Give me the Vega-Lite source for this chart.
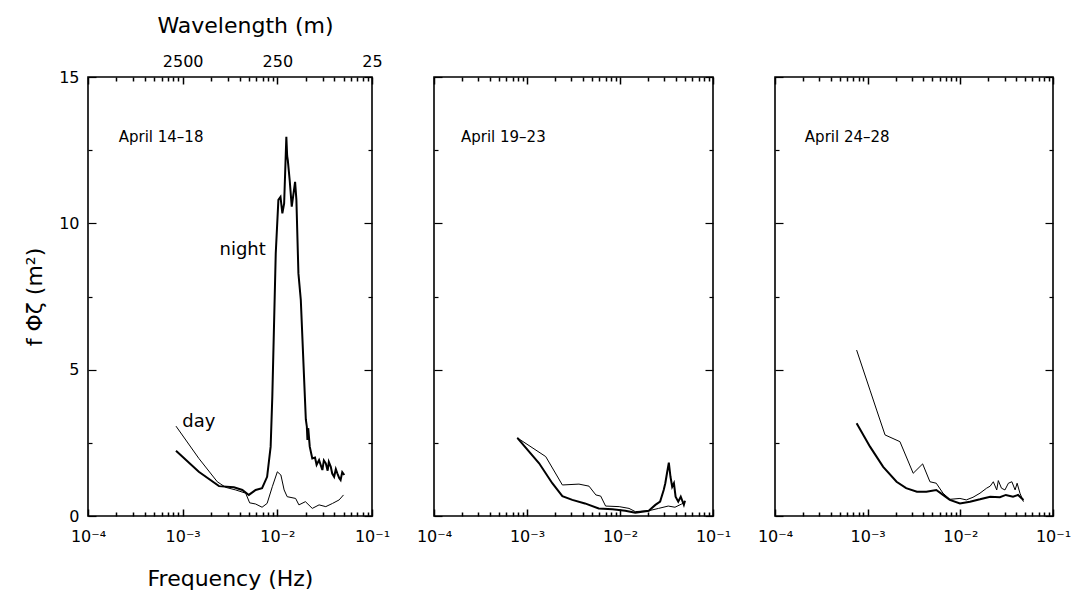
{
  "$schema": "https://vega.github.io/schema/vega-lite/v6.json",
  "background": "white",
  "padding": {"left": 22, "top": 13, "right": 5, "bottom": 5},
  "spacing": 62,
  "bounds": "flush",
  "config": {
    "view": {"stroke": "black", "strokeWidth": 1.6},
    "axis": {"grid": false, "domain": false, "tickColor": "black", "tickWidth": 1.2, "labelColor": "black", "labelFont": "DejaVu Sans", "labelFontSize": 16, "titleFont": "DejaVu Sans", "titleFontSize": 22, "titleFontWeight": "normal", "titleColor": "black", "labelOverlap": false, "labelFlush": false},
    "axisX": {"tickWidth": 1.5, "tickRound": true},
    "text": {"font": "DejaVu Sans", "color": "black"}
  },
  "datasets": {
    "curves": [
      {"panel": 1, "series": "night", "f": 0.00085, "v": 2.23},
      {"panel": 1, "series": "night", "f": 0.00148, "v": 1.51},
      {"panel": 1, "series": "night", "f": 0.00242, "v": 1.02},
      {"panel": 1, "series": "night", "f": 0.00348, "v": 0.98},
      {"panel": 1, "series": "night", "f": 0.00427, "v": 0.89},
      {"panel": 1, "series": "night", "f": 0.005, "v": 0.72},
      {"panel": 1, "series": "night", "f": 0.0059, "v": 0.89},
      {"panel": 1, "series": "night", "f": 0.0069, "v": 0.95},
      {"panel": 1, "series": "night", "f": 0.0078, "v": 1.34},
      {"panel": 1, "series": "night", "f": 0.0085, "v": 2.37},
      {"panel": 1, "series": "night", "f": 0.00885, "v": 4.08},
      {"panel": 1, "series": "night", "f": 0.00962, "v": 8.97},
      {"panel": 1, "series": "night", "f": 0.01026, "v": 10.8},
      {"panel": 1, "series": "night", "f": 0.0108, "v": 10.9},
      {"panel": 1, "series": "night", "f": 0.0113, "v": 10.34},
      {"panel": 1, "series": "night", "f": 0.0118, "v": 10.68},
      {"panel": 1, "series": "night", "f": 0.01245, "v": 12.96},
      {"panel": 1, "series": "night", "f": 0.0127, "v": 12.3},
      {"panel": 1, "series": "night", "f": 0.0129, "v": 12.16},
      {"panel": 1, "series": "night", "f": 0.0135, "v": 11.48},
      {"panel": 1, "series": "night", "f": 0.0142, "v": 10.57},
      {"panel": 1, "series": "night", "f": 0.0154, "v": 11.42},
      {"panel": 1, "series": "night", "f": 0.0159, "v": 10.8},
      {"panel": 1, "series": "night", "f": 0.0167, "v": 8.29},
      {"panel": 1, "series": "night", "f": 0.0177, "v": 7.38},
      {"panel": 1, "series": "night", "f": 0.0192, "v": 4.65},
      {"panel": 1, "series": "night", "f": 0.02, "v": 3.3},
      {"panel": 1, "series": "night", "f": 0.0205, "v": 3.05},
      {"panel": 1, "series": "night", "f": 0.0208, "v": 2.6},
      {"panel": 1, "series": "night", "f": 0.0212, "v": 3.0},
      {"panel": 1, "series": "night", "f": 0.022, "v": 2.37},
      {"panel": 1, "series": "night", "f": 0.0234, "v": 1.97},
      {"panel": 1, "series": "night", "f": 0.025, "v": 2.0},
      {"panel": 1, "series": "night", "f": 0.026, "v": 1.75},
      {"panel": 1, "series": "night", "f": 0.0276, "v": 1.91},
      {"panel": 1, "series": "night", "f": 0.0299, "v": 1.57},
      {"panel": 1, "series": "night", "f": 0.031, "v": 1.9},
      {"panel": 1, "series": "night", "f": 0.0325, "v": 1.8},
      {"panel": 1, "series": "night", "f": 0.034, "v": 1.55},
      {"panel": 1, "series": "night", "f": 0.035, "v": 1.85},
      {"panel": 1, "series": "night", "f": 0.0367, "v": 1.68},
      {"panel": 1, "series": "night", "f": 0.038, "v": 1.45},
      {"panel": 1, "series": "night", "f": 0.0398, "v": 1.34},
      {"panel": 1, "series": "night", "f": 0.0415, "v": 1.6},
      {"panel": 1, "series": "night", "f": 0.043, "v": 1.46},
      {"panel": 1, "series": "night", "f": 0.045, "v": 1.3},
      {"panel": 1, "series": "night", "f": 0.0466, "v": 1.23},
      {"panel": 1, "series": "night", "f": 0.0485, "v": 1.5},
      {"panel": 1, "series": "night", "f": 0.051, "v": 1.4},

      {"panel": 1, "series": "day", "f": 0.00085, "v": 3.07},
      {"panel": 1, "series": "day", "f": 0.00148, "v": 1.97},
      {"panel": 1, "series": "day", "f": 0.00232, "v": 1.17},
      {"panel": 1, "series": "day", "f": 0.00284, "v": 0.98},
      {"panel": 1, "series": "day", "f": 0.00363, "v": 0.89},
      {"panel": 1, "series": "day", "f": 0.00463, "v": 0.78},
      {"panel": 1, "series": "day", "f": 0.0051, "v": 0.45},
      {"panel": 1, "series": "day", "f": 0.0059, "v": 0.41},
      {"panel": 1, "series": "day", "f": 0.0069, "v": 0.3},
      {"panel": 1, "series": "day", "f": 0.0078, "v": 0.43},
      {"panel": 1, "series": "day", "f": 0.00885, "v": 1.0},
      {"panel": 1, "series": "day", "f": 0.01, "v": 1.51},
      {"panel": 1, "series": "day", "f": 0.0109, "v": 1.4},
      {"panel": 1, "series": "day", "f": 0.0118, "v": 0.89},
      {"panel": 1, "series": "day", "f": 0.0127, "v": 0.66},
      {"panel": 1, "series": "day", "f": 0.0156, "v": 0.6},
      {"panel": 1, "series": "day", "f": 0.0169, "v": 0.38},
      {"panel": 1, "series": "day", "f": 0.0198, "v": 0.49},
      {"panel": 1, "series": "day", "f": 0.0234, "v": 0.26},
      {"panel": 1, "series": "day", "f": 0.0276, "v": 0.38},
      {"panel": 1, "series": "day", "f": 0.0325, "v": 0.32},
      {"panel": 1, "series": "day", "f": 0.0383, "v": 0.43},
      {"panel": 1, "series": "day", "f": 0.045, "v": 0.55},
      {"panel": 1, "series": "day", "f": 0.05, "v": 0.72},

      {"panel": 2, "series": "day", "f": 0.000787, "v": 2.67},
      {"panel": 2, "series": "day", "f": 0.00159, "v": 2.03},
      {"panel": 2, "series": "day", "f": 0.0024, "v": 1.06},
      {"panel": 2, "series": "day", "f": 0.00362, "v": 1.09},
      {"panel": 2, "series": "day", "f": 0.00464, "v": 1.02},
      {"panel": 2, "series": "day", "f": 0.0055, "v": 0.72},
      {"panel": 2, "series": "day", "f": 0.0062, "v": 0.68},
      {"panel": 2, "series": "day", "f": 0.007, "v": 0.34},
      {"panel": 2, "series": "day", "f": 0.0098, "v": 0.32},
      {"panel": 2, "series": "day", "f": 0.0125, "v": 0.26},
      {"panel": 2, "series": "day", "f": 0.0146, "v": 0.15},
      {"panel": 2, "series": "day", "f": 0.0204, "v": 0.18},
      {"panel": 2, "series": "day", "f": 0.026, "v": 0.26},
      {"panel": 2, "series": "day", "f": 0.033, "v": 0.34},
      {"panel": 2, "series": "day", "f": 0.039, "v": 0.3},
      {"panel": 2, "series": "day", "f": 0.046, "v": 0.41},
      {"panel": 2, "series": "day", "f": 0.05, "v": 0.49},

      {"panel": 2, "series": "night", "f": 0.000787, "v": 2.67},
      {"panel": 2, "series": "night", "f": 0.00135, "v": 1.8},
      {"panel": 2, "series": "night", "f": 0.00187, "v": 1.12},
      {"panel": 2, "series": "night", "f": 0.0024, "v": 0.68},
      {"panel": 2, "series": "night", "f": 0.00307, "v": 0.55},
      {"panel": 2, "series": "night", "f": 0.0042, "v": 0.43},
      {"panel": 2, "series": "night", "f": 0.0059, "v": 0.26},
      {"panel": 2, "series": "night", "f": 0.0083, "v": 0.23},
      {"panel": 2, "series": "night", "f": 0.0114, "v": 0.18},
      {"panel": 2, "series": "night", "f": 0.0146, "v": 0.11},
      {"panel": 2, "series": "night", "f": 0.0204, "v": 0.18},
      {"panel": 2, "series": "night", "f": 0.024, "v": 0.38},
      {"panel": 2, "series": "night", "f": 0.027, "v": 0.49},
      {"panel": 2, "series": "night", "f": 0.0295, "v": 0.89},
      {"panel": 2, "series": "night", "f": 0.0307, "v": 1.12},
      {"panel": 2, "series": "night", "f": 0.032, "v": 1.46},
      {"panel": 2, "series": "night", "f": 0.0335, "v": 1.82},
      {"panel": 2, "series": "night", "f": 0.0349, "v": 1.34},
      {"panel": 2, "series": "night", "f": 0.0364, "v": 1.0},
      {"panel": 2, "series": "night", "f": 0.038, "v": 1.12},
      {"panel": 2, "series": "night", "f": 0.0396, "v": 0.66},
      {"panel": 2, "series": "night", "f": 0.0423, "v": 0.49},
      {"panel": 2, "series": "night", "f": 0.045, "v": 0.66},
      {"panel": 2, "series": "night", "f": 0.0486, "v": 0.38},
      {"panel": 2, "series": "night", "f": 0.05, "v": 0.52},

      {"panel": 3, "series": "day", "f": 0.00076, "v": 5.67},
      {"panel": 3, "series": "day", "f": 0.00106, "v": 4.3},
      {"panel": 3, "series": "day", "f": 0.00125, "v": 3.62},
      {"panel": 3, "series": "day", "f": 0.00154, "v": 2.77},
      {"panel": 3, "series": "day", "f": 0.00223, "v": 2.54},
      {"panel": 3, "series": "day", "f": 0.0031, "v": 1.46},
      {"panel": 3, "series": "day", "f": 0.00392, "v": 1.78},
      {"panel": 3, "series": "day", "f": 0.0047, "v": 1.17},
      {"panel": 3, "series": "day", "f": 0.0055, "v": 1.12},
      {"panel": 3, "series": "day", "f": 0.0065, "v": 0.78},
      {"panel": 3, "series": "day", "f": 0.0077, "v": 0.57},
      {"panel": 3, "series": "day", "f": 0.0099, "v": 0.6},
      {"panel": 3, "series": "day", "f": 0.0116, "v": 0.55},
      {"panel": 3, "series": "day", "f": 0.0137, "v": 0.64},
      {"panel": 3, "series": "day", "f": 0.0163, "v": 0.78},
      {"panel": 3, "series": "day", "f": 0.0192, "v": 0.95},
      {"panel": 3, "series": "day", "f": 0.021, "v": 1.02},
      {"panel": 3, "series": "day", "f": 0.0227, "v": 1.17},
      {"panel": 3, "series": "day", "f": 0.0247, "v": 0.89},
      {"panel": 3, "series": "day", "f": 0.0257, "v": 1.21},
      {"panel": 3, "series": "day", "f": 0.0278, "v": 0.95},
      {"panel": 3, "series": "day", "f": 0.0303, "v": 0.89},
      {"panel": 3, "series": "day", "f": 0.033, "v": 1.12},
      {"panel": 3, "series": "day", "f": 0.036, "v": 1.17},
      {"panel": 3, "series": "day", "f": 0.039, "v": 0.89},
      {"panel": 3, "series": "day", "f": 0.041, "v": 1.12},
      {"panel": 3, "series": "day", "f": 0.044, "v": 0.78},
      {"panel": 3, "series": "day", "f": 0.048, "v": 0.49},

      {"panel": 3, "series": "night", "f": 0.00076, "v": 3.17},
      {"panel": 3, "series": "night", "f": 0.00106, "v": 2.37},
      {"panel": 3, "series": "night", "f": 0.00147, "v": 1.68},
      {"panel": 3, "series": "night", "f": 0.00205, "v": 1.17},
      {"panel": 3, "series": "night", "f": 0.0026, "v": 0.95},
      {"panel": 3, "series": "night", "f": 0.0034, "v": 0.83},
      {"panel": 3, "series": "night", "f": 0.0043, "v": 0.83},
      {"panel": 3, "series": "night", "f": 0.0055, "v": 0.89},
      {"panel": 3, "series": "night", "f": 0.0065, "v": 0.72},
      {"panel": 3, "series": "night", "f": 0.0077, "v": 0.55},
      {"panel": 3, "series": "night", "f": 0.0099, "v": 0.43},
      {"panel": 3, "series": "night", "f": 0.0127, "v": 0.49},
      {"panel": 3, "series": "night", "f": 0.0163, "v": 0.57},
      {"panel": 3, "series": "night", "f": 0.021, "v": 0.66},
      {"panel": 3, "series": "night", "f": 0.0267, "v": 0.64},
      {"panel": 3, "series": "night", "f": 0.031, "v": 0.72},
      {"panel": 3, "series": "night", "f": 0.037, "v": 0.66},
      {"panel": 3, "series": "night", "f": 0.042, "v": 0.72},
      {"panel": 3, "series": "night", "f": 0.048, "v": 0.55}
    ],
    "titles": [
      {"panel": 1, "f": 0.000211, "v": 12.95, "label": "April 14–18"},
      {"panel": 2, "f": 0.000195, "v": 12.95, "label": "April 19–23"},
      {"panel": 3, "f": 0.00021, "v": 12.95, "label": "April 24–28"}
    ],
    "curvelabels": [
      {"panel": 1, "f": 0.0043, "v": 9.1, "label": "night"},
      {"panel": 1, "f": 0.00148, "v": 3.2, "label": "day"}
    ]
  },
  "hconcat": [
    {
      "width": 284, "height": 439,
      "resolve": {"axis": {"x": "independent", "y": "independent"}},
      "layer": [
        {
          "data": {"name": "curves"},
          "transform": [{"filter": "datum.panel == 1 && datum.series == 'day'"}],
          "mark": {"type": "line", "color": "black", "strokeWidth": 1},
          "encoding": {
            "x": {"field": "f", "type": "quantitative", "scale": {"type": "log", "domain": [0.0001, 0.1], "nice": false},
                  "axis": {"orient": "bottom", "values": [0.0001, 0.001, 0.01, 0.1], "offset": -7, "tickSize": 7, "labelPadding": 12, "labelExpr": "datum.value < 0.0005 ? '10⁻⁴' : datum.value < 0.005 ? '10⁻³' : datum.value < 0.05 ? '10⁻²' : '10⁻¹'", "title": "Frequency (Hz)", "titlePadding": 24}},
            "y": {"field": "v", "type": "quantitative", "scale": {"domain": [0, 15], "nice": false},
                  "axis": {"orient": "left", "values": [0, 5, 10, 15], "offset": -8, "tickSize": 8, "labelPadding": 9, "title": "f Φζ (m²)", "titlePadding": 12}}
          }
        },
        {
          "data": {"name": "curves"},
          "transform": [{"filter": "datum.panel == 1 && datum.series == 'night'"}],
          "mark": {"type": "line", "color": "black", "strokeWidth": 2},
          "encoding": {
            "x": {"field": "f", "type": "quantitative", "scale": {"type": "log", "domain": [0.0001, 0.1], "nice": false},
                  "axis": {"orient": "bottom", "values": [0.0002,0.0003,0.0004,0.0005,0.0006,0.0007,0.0008,0.0009,0.002,0.003,0.004,0.005,0.006,0.007,0.008,0.009,0.02,0.03,0.04,0.05,0.06,0.07,0.08,0.09], "offset": -4, "tickSize": 4, "labels": false, "title": null}},
            "y": {"field": "v", "type": "quantitative", "scale": {"domain": [0, 15], "nice": false},
                  "axis": {"orient": "left", "values": [2.5, 7.5, 12.5], "offset": -4, "tickSize": 4, "labels": false, "title": null}}
          }
        },
        {
          "data": {"name": "titles"},
          "transform": [{"filter": "datum.panel == 1"}],
          "mark": {"type": "text", "fontSize": 15, "align": "left", "baseline": "middle"},
          "encoding": {
            "text": {"field": "label"},
            "x": {"field": "f", "type": "quantitative", "scale": {"type": "log", "domain": [0.0001, 0.1], "nice": false},
                  "axis": {"orient": "top", "values": [0.0001, 0.001, 0.01, 0.1], "offset": -7, "tickSize": 7, "labelPadding": 8, "labelExpr": "datum.value < 0.0005 ? '' : datum.value < 0.005 ? '2500' : datum.value < 0.05 ? '250' : '25'", "title": "Wavelength (m)", "titlePadding": 16, "titleX": 157}},
            "y": {"field": "v", "type": "quantitative", "scale": {"domain": [0, 15], "nice": false},
                  "axis": {"orient": "right", "values": [0, 5, 10, 15], "offset": -8, "tickSize": 8, "labels": false, "title": null}}
          }
        },
        {
          "data": {"name": "curvelabels"},
          "transform": [{"filter": "datum.panel == 1"}],
          "mark": {"type": "text", "fontSize": 18, "align": "center", "baseline": "middle"},
          "encoding": {
            "text": {"field": "label"},
            "x": {"field": "f", "type": "quantitative", "scale": {"type": "log", "domain": [0.0001, 0.1], "nice": false},
                  "axis": {"orient": "top", "values": [0.0002,0.0003,0.0004,0.0005,0.0006,0.0007,0.0008,0.0009,0.002,0.003,0.004,0.005,0.006,0.007,0.008,0.009,0.02,0.03,0.04,0.05,0.06,0.07,0.08,0.09], "offset": -4, "tickSize": 4, "labels": false, "title": null}},
            "y": {"field": "v", "type": "quantitative", "scale": {"domain": [0, 15], "nice": false},
                  "axis": {"orient": "right", "values": [2.5, 7.5, 12.5], "offset": -4, "tickSize": 4, "labels": false, "title": null}}
          }
        }
      ]
    },
    {
      "width": 279, "height": 439,
      "resolve": {"axis": {"x": "independent", "y": "independent"}},
      "layer": [
        {
          "data": {"name": "curves"},
          "transform": [{"filter": "datum.panel == 2 && datum.series == 'day'"}],
          "mark": {"type": "line", "color": "black", "strokeWidth": 1},
          "encoding": {
            "x": {"field": "f", "type": "quantitative", "scale": {"type": "log", "domain": [0.0001, 0.1], "nice": false},
                  "axis": {"orient": "bottom", "values": [0.0001, 0.001, 0.01, 0.1], "offset": -7, "tickSize": 7, "labelPadding": 12, "labelExpr": "datum.value < 0.0005 ? '10⁻⁴' : datum.value < 0.005 ? '10⁻³' : datum.value < 0.05 ? '10⁻²' : '10⁻¹'", "title": null}},
            "y": {"field": "v", "type": "quantitative", "scale": {"domain": [0, 15], "nice": false},
                  "axis": {"orient": "left", "values": [0, 5, 10, 15], "offset": -8, "tickSize": 8, "labels": false, "title": null}}
          }
        },
        {
          "data": {"name": "curves"},
          "transform": [{"filter": "datum.panel == 2 && datum.series == 'night'"}],
          "mark": {"type": "line", "color": "black", "strokeWidth": 2},
          "encoding": {
            "x": {"field": "f", "type": "quantitative", "scale": {"type": "log", "domain": [0.0001, 0.1], "nice": false},
                  "axis": {"orient": "bottom", "values": [0.0002,0.0003,0.0004,0.0005,0.0006,0.0007,0.0008,0.0009,0.002,0.003,0.004,0.005,0.006,0.007,0.008,0.009,0.02,0.03,0.04,0.05,0.06,0.07,0.08,0.09], "offset": -4, "tickSize": 4, "labels": false, "title": null}},
            "y": {"field": "v", "type": "quantitative", "scale": {"domain": [0, 15], "nice": false},
                  "axis": {"orient": "left", "values": [2.5, 7.5, 12.5], "offset": -4, "tickSize": 4, "labels": false, "title": null}}
          }
        },
        {
          "data": {"name": "titles"},
          "transform": [{"filter": "datum.panel == 2"}],
          "mark": {"type": "text", "fontSize": 15, "align": "left", "baseline": "middle"},
          "encoding": {
            "text": {"field": "label"},
            "x": {"field": "f", "type": "quantitative", "scale": {"type": "log", "domain": [0.0001, 0.1], "nice": false},
                  "axis": {"orient": "top", "values": [0.0001, 0.001, 0.01, 0.1], "offset": -7, "tickSize": 7, "labels": false, "title": null}},
            "y": {"field": "v", "type": "quantitative", "scale": {"domain": [0, 15], "nice": false},
                  "axis": {"orient": "right", "values": [0, 5, 10, 15], "offset": -8, "tickSize": 8, "labels": false, "title": null}}
          }
        },
        {
          "data": {"name": "curvelabels"},
          "transform": [{"filter": "datum.panel == 2"}],
          "mark": {"type": "text", "fontSize": 18, "baseline": "middle"},
          "encoding": {
            "text": {"field": "label"},
            "x": {"field": "f", "type": "quantitative", "scale": {"type": "log", "domain": [0.0001, 0.1], "nice": false},
                  "axis": {"orient": "top", "values": [0.0002,0.0003,0.0004,0.0005,0.0006,0.0007,0.0008,0.0009,0.002,0.003,0.004,0.005,0.006,0.007,0.008,0.009,0.02,0.03,0.04,0.05,0.06,0.07,0.08,0.09], "offset": -4, "tickSize": 4, "labels": false, "title": null}},
            "y": {"field": "v", "type": "quantitative", "scale": {"domain": [0, 15], "nice": false},
                  "axis": {"orient": "right", "values": [2.5, 7.5, 12.5], "offset": -4, "tickSize": 4, "labels": false, "title": null}}
          }
        }
      ]
    },
    {
      "width": 278, "height": 439,
      "resolve": {"axis": {"x": "independent", "y": "independent"}},
      "layer": [
        {
          "data": {"name": "curves"},
          "transform": [{"filter": "datum.panel == 3 && datum.series == 'day'"}],
          "mark": {"type": "line", "color": "black", "strokeWidth": 1},
          "encoding": {
            "x": {"field": "f", "type": "quantitative", "scale": {"type": "log", "domain": [0.0001, 0.1], "nice": false},
                  "axis": {"orient": "bottom", "values": [0.0001, 0.001, 0.01, 0.1], "offset": -7, "tickSize": 7, "labelPadding": 12, "labelExpr": "datum.value < 0.0005 ? '10⁻⁴' : datum.value < 0.005 ? '10⁻³' : datum.value < 0.05 ? '10⁻²' : '10⁻¹'", "title": null}},
            "y": {"field": "v", "type": "quantitative", "scale": {"domain": [0, 15], "nice": false},
                  "axis": {"orient": "left", "values": [0, 5, 10, 15], "offset": -8, "tickSize": 8, "labels": false, "title": null}}
          }
        },
        {
          "data": {"name": "curves"},
          "transform": [{"filter": "datum.panel == 3 && datum.series == 'night'"}],
          "mark": {"type": "line", "color": "black", "strokeWidth": 2},
          "encoding": {
            "x": {"field": "f", "type": "quantitative", "scale": {"type": "log", "domain": [0.0001, 0.1], "nice": false},
                  "axis": {"orient": "bottom", "values": [0.0002,0.0003,0.0004,0.0005,0.0006,0.0007,0.0008,0.0009,0.002,0.003,0.004,0.005,0.006,0.007,0.008,0.009,0.02,0.03,0.04,0.05,0.06,0.07,0.08,0.09], "offset": -4, "tickSize": 4, "labels": false, "title": null}},
            "y": {"field": "v", "type": "quantitative", "scale": {"domain": [0, 15], "nice": false},
                  "axis": {"orient": "left", "values": [2.5, 7.5, 12.5], "offset": -4, "tickSize": 4, "labels": false, "title": null}}
          }
        },
        {
          "data": {"name": "titles"},
          "transform": [{"filter": "datum.panel == 3"}],
          "mark": {"type": "text", "fontSize": 15, "align": "left", "baseline": "middle"},
          "encoding": {
            "text": {"field": "label"},
            "x": {"field": "f", "type": "quantitative", "scale": {"type": "log", "domain": [0.0001, 0.1], "nice": false},
                  "axis": {"orient": "top", "values": [0.0001, 0.001, 0.01, 0.1], "offset": -7, "tickSize": 7, "labels": false, "title": null}},
            "y": {"field": "v", "type": "quantitative", "scale": {"domain": [0, 15], "nice": false},
                  "axis": {"orient": "right", "values": [0, 5, 10, 15], "offset": -8, "tickSize": 8, "labels": false, "title": null}}
          }
        },
        {
          "data": {"name": "curvelabels"},
          "transform": [{"filter": "datum.panel == 3"}],
          "mark": {"type": "text", "fontSize": 18, "baseline": "middle"},
          "encoding": {
            "text": {"field": "label"},
            "x": {"field": "f", "type": "quantitative", "scale": {"type": "log", "domain": [0.0001, 0.1], "nice": false},
                  "axis": {"orient": "top", "values": [0.0002,0.0003,0.0004,0.0005,0.0006,0.0007,0.0008,0.0009,0.002,0.003,0.004,0.005,0.006,0.007,0.008,0.009,0.02,0.03,0.04,0.05,0.06,0.07,0.08,0.09], "offset": -4, "tickSize": 4, "labels": false, "title": null}},
            "y": {"field": "v", "type": "quantitative", "scale": {"domain": [0, 15], "nice": false},
                  "axis": {"orient": "right", "values": [2.5, 7.5, 12.5], "offset": -4, "tickSize": 4, "labels": false, "title": null}}
          }
        }
      ]
    }
  ]
}
